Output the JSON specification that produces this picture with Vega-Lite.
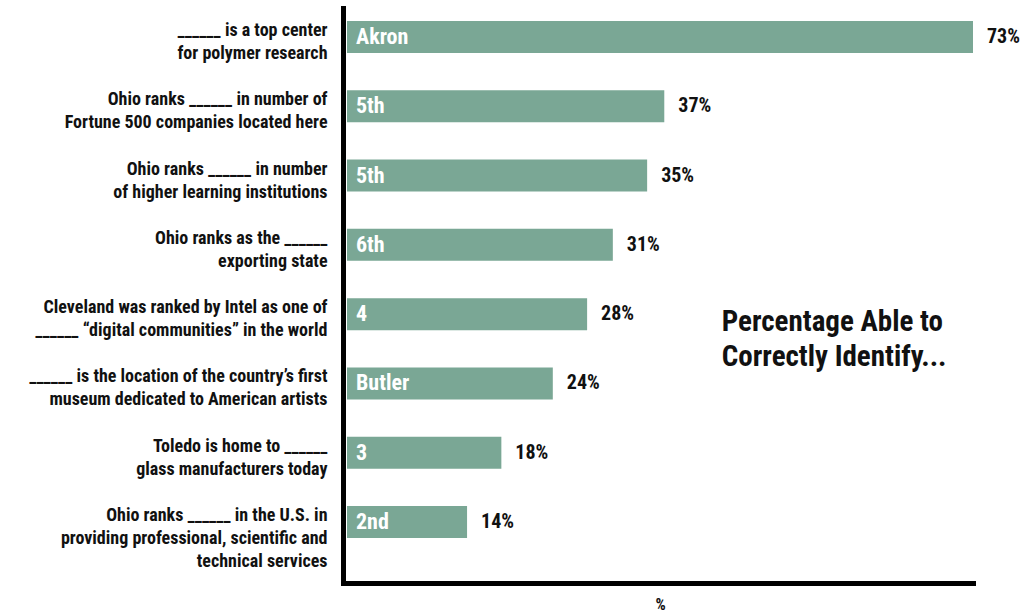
{
  "$schema": "https://vega.github.io/schema/vega-lite/v6.json",
  "width": 626,
  "height": 575,
  "autosize": {"type": "none"},
  "padding": {"left": 347, "top": 8, "right": 52, "bottom": 30},
  "background": "white",
  "config": {
    "view": {"stroke": null},
    "font": "Liberation Sans Narrow, Roboto Condensed, DejaVu Sans Condensed, Liberation Sans"
  },
  "data": {
    "values": [
      {"question": "______ is a top center|for polymer research", "answer": "Akron", "pct": 73},
      {"question": "Ohio ranks ______ in number of|Fortune 500 companies located here", "answer": "5th", "pct": 37},
      {"question": "Ohio ranks ______ in number|of higher learning institutions", "answer": "5th", "pct": 35},
      {"question": "Ohio ranks as the ______|exporting state", "answer": "6th", "pct": 31},
      {"question": "Cleveland was ranked by Intel as one of|______ “digital communities” in the world", "answer": "4", "pct": 28},
      {"question": "______ is the location of the country’s first |museum dedicated to American artists", "answer": "Butler", "pct": 24},
      {"question": "Toledo is home to ______|glass manufacturers today", "answer": "3", "pct": 18},
      {"question": "Ohio ranks ______ in the U.S. in|providing professional, scientific and|technical services", "answer": "2nd", "pct": 14}
    ]
  },
  "encoding": {
    "y": {
      "field": "question",
      "type": "nominal",
      "sort": null,
      "scale": {"paddingInner": 0.538, "paddingOuter": 0.4185, "align": 0.224},
      "axis": {
        "title": null,
        "ticks": false,
        "domainColor": "#000000",
        "domainWidth": 5,
        "domainCap": "square",
        "offset": 4,
        "labelExpr": "split(datum.value, '|')",
        "labelFont": "Liberation Sans Narrow, Roboto Condensed, DejaVu Sans Condensed, Liberation Sans",
        "labelFontSize": 18,
        "labelFontWeight": "bold",
        "labelColor": "#111111",
        "labelLineHeight": 23,
        "labelBaseline": "top",
        "labelOffset": -15,
        "labelPadding": 16,
        "labelLimit": 400
      }
    }
  },
  "layer": [
    {
      "mark": {"type": "bar", "color": "#7aa795"},
      "encoding": {
        "x": {
          "field": "pct",
          "type": "quantitative",
          "scale": {"domain": [0, 73], "nice": false},
          "axis": {
            "title": "%",
            "titleFontSize": 16,
            "titleFontWeight": "bold",
            "titleColor": "#111111",
            "titlePadding": 13,
            "labels": false,
            "ticks": false,
            "grid": false,
            "domainColor": "#000000",
            "domainWidth": 5,
            "domainCap": "square"
          }
        }
      }
    },
    {
      "mark": {"type": "text", "align": "left", "baseline": "middle", "dx": 9, "fontSize": 22, "fontWeight": "bold", "color": "#ffffff"},
      "encoding": {
        "x": {"datum": 0},
        "text": {"field": "answer"}
      }
    },
    {
      "transform": [{"calculate": "datum.pct + '%'", "as": "pctLabel"}],
      "mark": {"type": "text", "align": "left", "baseline": "middle", "dx": 14, "fontSize": 20, "fontWeight": "bold", "color": "#111111"},
      "encoding": {
        "x": {"field": "pct", "type": "quantitative"},
        "text": {"field": "pctLabel"}
      }
    },
    {
      "data": {"values": [{"note": "Percentage Able to|Correctly Identify...", "xpos": 43.7, "row": "Cleveland was ranked by Intel as one of|______ “digital communities” in the world"}]},
      "transform": [{"calculate": "split(datum.note, '|')", "as": "note"}],
      "mark": {"type": "text", "align": "left", "baseline": "middle", "dy": 8, "fontSize": 29, "fontWeight": "bold", "lineHeight": 35, "color": "#111111"},
      "encoding": {
        "x": {"field": "xpos", "type": "quantitative"},
        "y": {"field": "row", "type": "nominal", "sort": null},
        "text": {"field": "note"}
      }
    }
  ]
}
